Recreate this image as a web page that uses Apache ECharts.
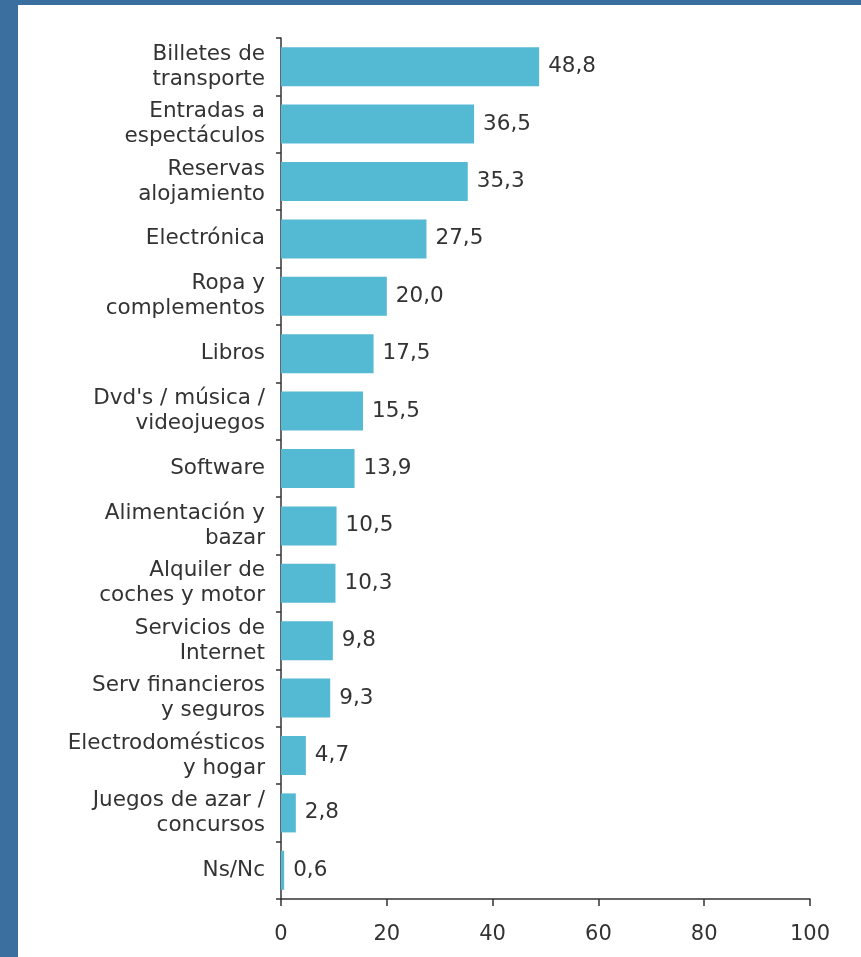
<!DOCTYPE html>
<html>
<head>
<meta charset="utf-8">
<script src="https://cdn.jsdelivr.net/npm/echarts@6/dist/echarts.min.js"></script>
<style>
html, body { margin: 0; padding: 0; background: #3a6fa0; }
#wrap { position: absolute; left: 18px; top: 5px; right: 0; bottom: 0; background: #fff; }
#chart { width: 861px; height: 957px; position: absolute; left: 0; top: 0; }
</style>
</head>
<body>
<div id="wrap"></div>
<div id="chart"></div>
<script>
var categories = ['Billetes de\ntransporte', 'Entradas a\nespectáculos', 'Reservas\nalojamiento', 'Electrónica',
    'Ropa y\ncomplementos', 'Libros', "Dvd's / música /\nvideojuegos", 'Software', 'Alimentación y\nbazar',
    'Alquiler de\ncoches y motor', 'Servicios de\nInternet', 'Serv financieros\ny seguros',
    'Electrodomésticos\ny hogar', 'Juegos de azar /\nconcursos', 'Ns/Nc'];
var values = [48.8, 36.5, 35.3, 27.5, 20.0, 17.5, 15.5, 13.9, 10.5, 10.3, 9.8, 9.3, 4.7, 2.8, 0.6];
var xTicks = [0, 20, 40, 60, 80, 100];

var myChart = echarts.init(document.getElementById('chart'));
var font = 'DejaVu Sans, Verdana, sans-serif';

var option = {
    animation: false,
    grid: { left: 281, right: 51, top: 38, bottom: 58 },
    xAxis: {
        type: 'value',
        min: 0,
        max: 100,
        interval: 20,
        splitLine: { show: false },
        axisLine: { show: true, lineStyle: { color: '#333', width: 1.5 } },
        axisTick: { show: true, length: 7, lineStyle: { color: '#333', width: 1.5 } },
        axisLabel: {
            color: '#333', fontSize: 21, fontFamily: font, margin: 25,
            formatter: function (v) { return xTicks.indexOf(v) >= 0 ? String(v) : ''; }
        }
    },
    yAxis: {
        type: 'category',
        data: categories,
        inverse: true,
        axisLine: { show: true, lineStyle: { color: '#333', width: 1.5 } },
        axisTick: { show: true, length: 5, lineStyle: { color: '#333', width: 1.5 } },
        axisLabel: { color: '#333', fontSize: 21.5, fontFamily: font, margin: 16, lineHeight: 25, align: 'right' }
    },
    series: [{
        type: 'bar',
        data: values,
        barCategoryGap: '32%',
        itemStyle: { color: '#54b9d2' },
        label: {
            show: true,
            position: 'right',
            distance: 9,
            color: '#333',
            fontSize: 21.5,
            fontFamily: font,
            formatter: function (p) { return p.value.toFixed(1).replace('.', ','); }
        }
    }]
};

option && myChart.setOption(option);
</script>
</body>
</html>
